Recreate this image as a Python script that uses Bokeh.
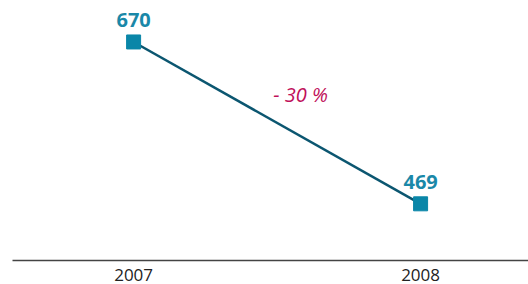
from bokeh.plotting import figure
from bokeh.models import ColumnDataSource, Label, FixedTicker, Range1d
from bokeh.core.properties import value
from bokeh.embed import file_html
from bokeh.resources import INLINE

years = [2007, 2008]
values = [670, 469]
labels = ["670", "469"]
change_label = "- 30 %"

src = ColumnDataSource(dict(x=years, y=values, t=labels))

p = figure(width=528, height=283, output_backend="svg", toolbar_location=None,
           x_range=Range1d(2006.578, 2008.376), y_range=Range1d(398.6, 721.5),
           min_border_left=12, min_border_right=0, min_border_top=0, min_border_bottom=0)
p.outline_line_color = None
p.grid.visible = False
p.yaxis.visible = False
p.background_fill_color = "white"
p.border_fill_color = "white"

p.line("x", "y", source=src, line_color="#0b5670", line_width=2.5)
p.scatter("x", "y", source=src, marker="square", size=14, fill_color="#0a86a8", line_color="#0a86a8")
p.text("x", "y", text="t", source=src, text_align="center", text_baseline="bottom",
       y_offset=-15, text_font_size="20px", text_font_style="bold", text_color="#1a88a8",
       text_font=value("Open Sans"))

p.add_layout(Label(x=2007.582, y=605, text=change_label, text_align="center",
                   text_baseline="middle", text_font_size="20px", text_font_style="italic",
                   text_color="#c0105a", text_font="Open Sans"))

ax = p.xaxis[0]
ax.ticker = FixedTicker(ticks=years)
ax.major_tick_line_color = None
ax.minor_tick_line_color = None
ax.axis_line_color = "#444444"
ax.axis_line_width = 1.5
ax.major_label_text_font = "Open Sans"
ax.major_label_text_font_size = "17px"
ax.major_label_text_color = "#222222"
ax.major_label_standoff = 2

open("out.html", "w").write(file_html(p, INLINE))
